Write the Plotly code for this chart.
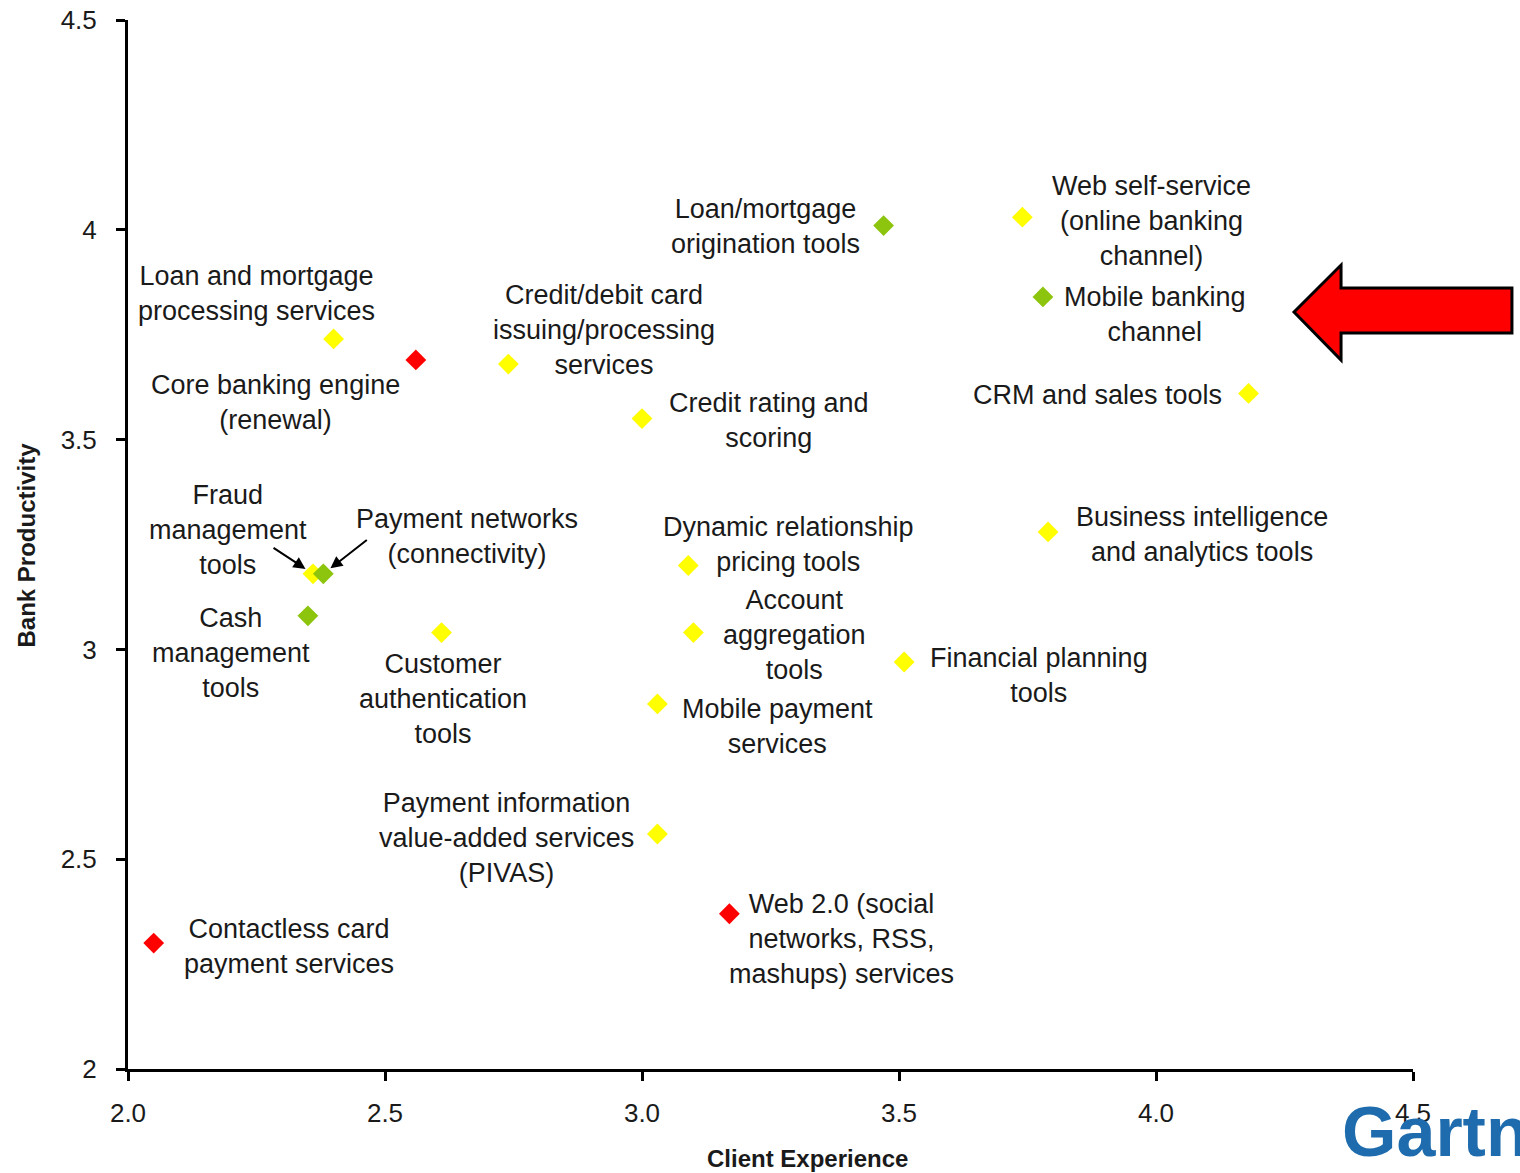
import plotly.graph_objects as go

# Technology investment areas: client experience vs. bank productivity scores
names = [
    "Loan/mortgage\norigination tools",
    "Web self-service\n(online banking\nchannel)",
    "Mobile banking\nchannel",
    "CRM and sales tools",
    "Loan and mortgage\nprocessing services",
    "Core banking engine\n(renewal)",
    "Credit/debit card\nissuing/processing\nservices",
    "Credit rating and\nscoring",
    "Business intelligence\nand analytics tools",
    "Dynamic relationship\npricing tools",
    "Fraud\nmanagement\ntools",
    "Payment networks\n(connectivity)",
    "Cash\nmanagement\ntools",
    "Customer\nauthentication\ntools",
    "Account\naggregation\ntools",
    "Financial planning\ntools",
    "Mobile payment\nservices",
    "Payment information\nvalue-added services\n(PIVAS)",
    "Web 2.0 (social\nnetworks, RSS,\nmashups) services",
    "Contactless card\npayment services",
]
client_experience = [3.47, 3.74, 3.78, 4.18, 2.40, 2.56, 2.74, 3.00, 3.79, 3.09,
                     2.36, 2.38, 2.35, 2.61, 3.10, 3.51, 3.03, 3.03, 3.17, 2.05]
bank_productivity = [4.01, 4.03, 3.84, 3.61, 3.74, 3.69, 3.68, 3.55, 3.28, 3.20,
                     3.18, 3.18, 3.08, 3.04, 3.04, 2.97, 2.87, 2.56, 2.37, 2.30]
signal = ["green", "yellow", "green", "yellow", "yellow", "red", "yellow", "yellow",
          "yellow", "yellow", "yellow", "green", "green", "yellow", "yellow",
          "yellow", "yellow", "yellow", "red", "red"]

x_ticks = [2.0, 2.5, 3.0, 3.5, 4.0, 4.5]
x_ticktext = ["2.0", "2.5", "3.0", "3.5", "4.0", "4.5"]
y_ticks = [2.0, 2.5, 3.0, 3.5, 4.0, 4.5]
y_ticktext = ["2", "2.5", "3", "3.5", "4", "4.5"]

# Styling / label placement: (right, down) pixel offsets of each label centre
signal_colors = {"yellow": "#FFFF00", "green": "#8DC40E", "red": "#FF0000"}
label_offsets = {
    "Loan/mortgage\norigination tools": (-118, 1),
    "Web self-service\n(online banking\nchannel)": (129, 4),
    "Mobile banking\nchannel": (112, 18),
    "CRM and sales tools": (-151, 2),
    "Loan and mortgage\nprocessing services": (-77, -45),
    "Core banking engine\n(renewal)": (-140, 43),
    "Credit/debit card\nissuing/processing\nservices": (96, -34),
    "Credit rating and\nscoring": (127, 2),
    "Business intelligence\nand analytics tools": (154, 3),
    "Dynamic relationship\npricing tools": (100, -21),
    "Fraud\nmanagement\ntools": (-85, -44),
    "Payment networks\n(connectivity)": (144, -37),
    "Cash\nmanagement\ntools": (-77, 37),
    "Customer\nauthentication\ntools": (1, 66),
    "Account\naggregation\ntools": (101, 2),
    "Financial planning\ntools": (135, 14),
    "Mobile payment\nservices": (120, 23),
    "Payment information\nvalue-added services\n(PIVAS)": (-151, 4),
    "Web 2.0 (social\nnetworks, RSS,\nmashups) services": (112, 25),
    "Contactless card\npayment services": (135, 3),
}
# Leader arrows for the two overlapping markers (tail offset in pixels)
leader_arrows = {
    "Fraud\nmanagement\ntools": (-41, -27),
    "Payment networks\n(connectivity)": (45, -35),
}

FONT = "Liberation Sans, Arial, sans-serif"

fig = go.Figure()

for sig in ["yellow", "green", "red"]:
    idx = [i for i, s in enumerate(signal) if s == sig]
    fig.add_trace(go.Scatter(
        x=[client_experience[i] for i in idx],
        y=[bank_productivity[i] for i in idx],
        mode="markers",
        marker=dict(symbol="diamond", size=16, color=signal_colors[sig],
                    line=dict(width=0)),
        text=[names[i].replace("\n", " ") for i in idx],
        hoverinfo="text",
        showlegend=False,
    ))

annotations = []
for name, xv, yv in zip(names, client_experience, bank_productivity):
    dx, dy = label_offsets[name]
    annotations.append(dict(
        x=xv, y=yv, xref="x", yref="y",
        text=name.replace("\n", "<br>"),
        showarrow=False, xshift=dx, yshift=-dy,
        xanchor="center", yanchor="middle", align="center",
        font=dict(family=FONT, size=27, color="#1a1a1a"),
    ))
    if name in leader_arrows:
        ax, ay = leader_arrows[name]
        annotations.append(dict(
            x=xv, y=yv, xref="x", yref="y", text="",
            showarrow=True, ax=ax, ay=ay, axref="pixel", ayref="pixel",
            arrowhead=2, arrowsize=1.2, arrowwidth=2, arrowcolor="#000000",
            standoff=9,
        ))

# Axis titles
annotations.append(dict(
    x=0.529, y=-0.085, xref="paper", yref="paper", text="<b>Client Experience</b>",
    showarrow=False, xanchor="center", yanchor="middle",
    font=dict(family=FONT, size=24, color="#1a1a1a"),
))
annotations.append(dict(
    x=-0.079, y=0.4995, xref="paper", yref="paper", text="<b>Bank Productivity</b>",
    showarrow=False, xanchor="center", yanchor="middle", textangle=-90,
    font=dict(family=FONT, size=24, color="#1a1a1a"),
))
# Brand mark
annotations.append(dict(
    x=0.943, y=-0.06, xref="paper", yref="paper", text="<b>Gartner</b>",
    showarrow=False, xanchor="left", yanchor="middle",
    font=dict(family=FONT, size=70, color="#1E6CAD"),
))

# Big red callout arrow pointing at the mobile banking channel
arrow_path = ("M 0.9074 0.7216 L 0.9440 0.7664 L 0.9440 0.7445 L 1.0770 0.7445 "
              "L 1.0770 0.7016 L 0.9440 0.7016 L 0.9440 0.6759 Z")

fig.update_layout(
    width=1520, height=1173,
    margin=dict(l=128, r=107, t=20, b=104),
    paper_bgcolor="white", plot_bgcolor="white",
    annotations=annotations,
    shapes=[dict(type="path", path=arrow_path, xref="paper", yref="paper",
                 fillcolor="#FF0000", line=dict(color="#000000", width=3),
                 layer="above")],
    xaxis=dict(range=[2, 4.5], tickvals=x_ticks, ticktext=x_ticktext,
               showgrid=False, zeroline=False, showline=True, linecolor="black",
               linewidth=3, ticks="outside", ticklen=9, tickwidth=3,
               tickcolor="black", ticklabelstandoff=10, automargin=False,
               ticklabeloverflow="allow",
               tickfont=dict(family=FONT, size=26, color="#1a1a1a")),
    yaxis=dict(range=[2, 4.5], tickvals=y_ticks, ticktext=y_ticktext,
               showgrid=False, zeroline=False, showline=True, linecolor="black",
               linewidth=3, ticks="outside", ticklen=9, tickwidth=3,
               tickcolor="black", ticklabelstandoff=14, automargin=False,
               ticklabeloverflow="allow",
               tickfont=dict(family=FONT, size=26, color="#1a1a1a")),
)

fig.write_html("out.html")
